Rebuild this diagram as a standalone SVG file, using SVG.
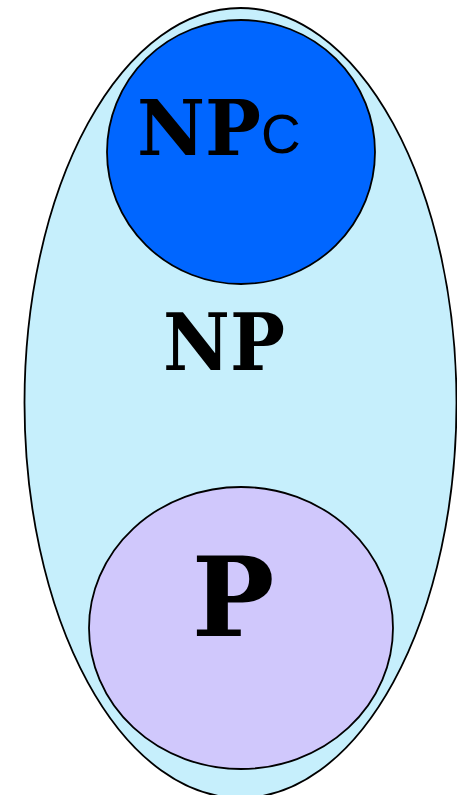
<svg xmlns="http://www.w3.org/2000/svg" width="457" height="795" viewBox="0 0 457 795">
<style>
.sh{stroke:#000;stroke-width:1.8}
.lbl{font-family:"DejaVu Serif",serif;font-weight:bold;fill:#000}
.sub{font-family:"Liberation Sans",sans-serif;fill:#000}
</style>
<rect width="457" height="795" fill="#fff"/>
<g id="NP">
<ellipse class="sh" cx="240.5" cy="403" rx="216" ry="395" fill="#C6EFFC"/>
<text class="lbl" x="224" y="370" font-size="78" text-anchor="middle" textLength="122" lengthAdjust="spacingAndGlyphs">NP</text>
</g>
<g id="NPc">
<ellipse class="sh" cx="241" cy="152" rx="134" ry="132" fill="#0066FF"/>
<text class="lbl" x="137" y="155" font-size="76" textLength="124" lengthAdjust="spacingAndGlyphs">NP</text>
<text class="sub" x="261" y="153" font-size="55">C</text>
</g>
<g id="P">
<ellipse class="sh" cx="241" cy="628" rx="152" ry="141" fill="#D0C8FC"/>
<text class="lbl" x="233" y="636" font-size="110" text-anchor="middle">P</text>
</g>
<g id="connectors"/>
</svg>
